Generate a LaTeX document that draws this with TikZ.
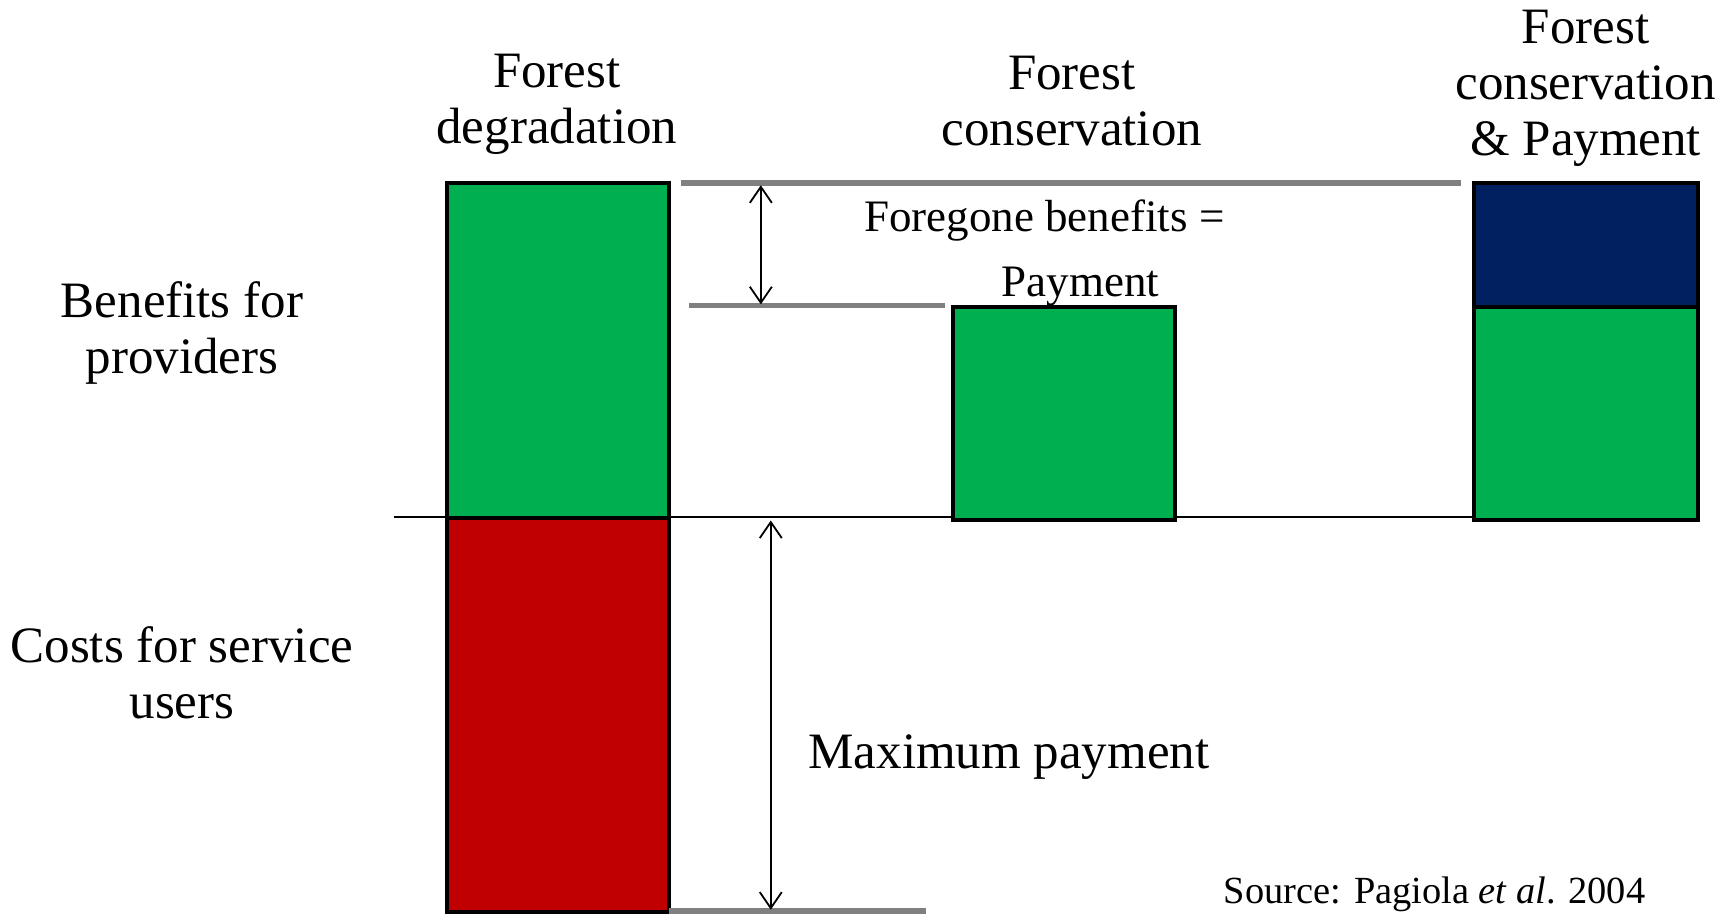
\documentclass[tikz,border=0pt]{standalone}
\usepackage{fontspec}
\setmainfont{Liberation Serif}
\usetikzlibrary{arrows.meta}
\definecolor{bargreen}{HTML}{00B050}
\definecolor{barred}{HTML}{C00000}
\definecolor{barnavy}{HTML}{002060}
\definecolor{guidegray}{HTML}{808080}
\tikzset{
  bar/.style={draw=black, line width=2pt},
  guide/.style={draw=guidegray, line width=2.8pt},
  axisline/.style={draw=black, line width=0.9pt},
  dimarrow/.style={{Straight Barb[length=8pt,width=11pt]}-{Straight Barb[length=8pt,width=11pt]}, line width=0.9pt},
  lbl/.style={font=\fontsize{25.5}{28}\selectfont, align=center, inner sep=0pt},
  midlbl/.style={font=\fontsize{22.5}{26}\selectfont, align=center, inner sep=0pt},
  srclbl/.style={font=\fontsize{19.2}{22}\selectfont, inner sep=0pt}
}
\begin{document}
\begin{tikzpicture}[x=0.5513pt, y=-0.5513pt]
\useasboundingbox (0,0) rectangle (1568,829);
% baseline
\coordinate (baseL) at (357,469);
\coordinate (baseR) at (1337,469);
\draw[axisline] (baseL) -- (baseR);
% bars
\draw[bar, fill=bargreen] (405,166) rectangle (607,470);
\draw[bar, fill=barred] (405,470) rectangle (607,827);
\draw[bar, fill=bargreen] (864,278) rectangle (1066,472);
\draw[bar, fill=barnavy] (1337,166) rectangle (1540,278);
\draw[bar, fill=bargreen] (1337,278) rectangle (1540,472);
% guide lines
\coordinate (topL) at (618,166);
\coordinate (topR) at (1325,166);
\coordinate (midL) at (625,277);
\coordinate (midR) at (857,277);
\coordinate (botL) at (607,826);
\coordinate (botR) at (840,826);
\draw[guide] (topL) -- (topR);
\draw[guide] (midL) -- (midR);
\draw[guide] (botL) -- (botR);
% dimension arrows
\coordinate (a1t) at (690,168);
\coordinate (a1b) at (690,276);
\coordinate (a2t) at (699,472);
\coordinate (a2b) at (699,825);
\draw[dimarrow] (a1t) -- (a1b);
\draw[dimarrow] (a2t) -- (a2b);
% labels
\node[lbl] (hdeg) at (505,95) {Forest\\degradation};
\node[lbl] (hcons) at (972,92) {Forest\\conservation};
\node[lbl] (hpay) at (1438,80) {Forest\\conservation\\\& Payment};
\node[lbl] (benef) at (165,302) {Benefits for\\providers};
\node[lbl] (costs) at (165,610) {Costs for service\\users};
\node[midlbl] (foreg) at (947,200) {Foregone benefits =};
\node[midlbl] (paym) at (980,260) {Payment};
\node[lbl] (maxp) at (915,687) {Maximum payment};
\node[srclbl] (src) at (1301,811) {Source: Pagiola \textit{et al}. 2004};
\end{tikzpicture}
\end{document}
